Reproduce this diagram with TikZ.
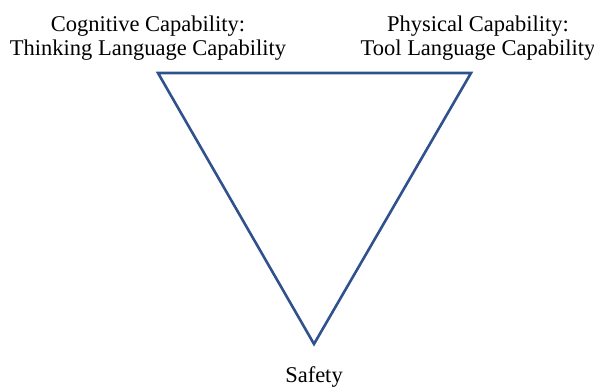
\documentclass[tikz,border=0pt]{standalone}
\usepackage{fontspec}
\setmainfont{Liberation Serif}
\definecolor{edgeblue}{HTML}{2F528F}
\begin{document}
\begin{tikzpicture}[x=1pt,y=-1pt,
  label/.style={align=center,font=\fontsize{22.5}{24.5}\selectfont,inner sep=0pt},
  edge/.style={draw=edgeblue,line width=2.6pt,line join=miter}]
\useasboundingbox (0,0) rectangle (594,387);
% vertices of the triangle
\coordinate (tl) at (158,73);
\coordinate (tr) at (471,73);
\coordinate (bt) at (314,344);
\draw[edge] (tl) -- (tr) -- (bt) -- cycle;
% vertex labels
\node[label] (cog) at (148,38) {Cognitive Capability:\\Thinking Language Capability};
\node[label] (phy) at (478,38) {Physical Capability:\\Tool Language Capability};
\node[label,anchor=base] (safe) at (314,382) {Safety};
\end{tikzpicture}
\end{document}
